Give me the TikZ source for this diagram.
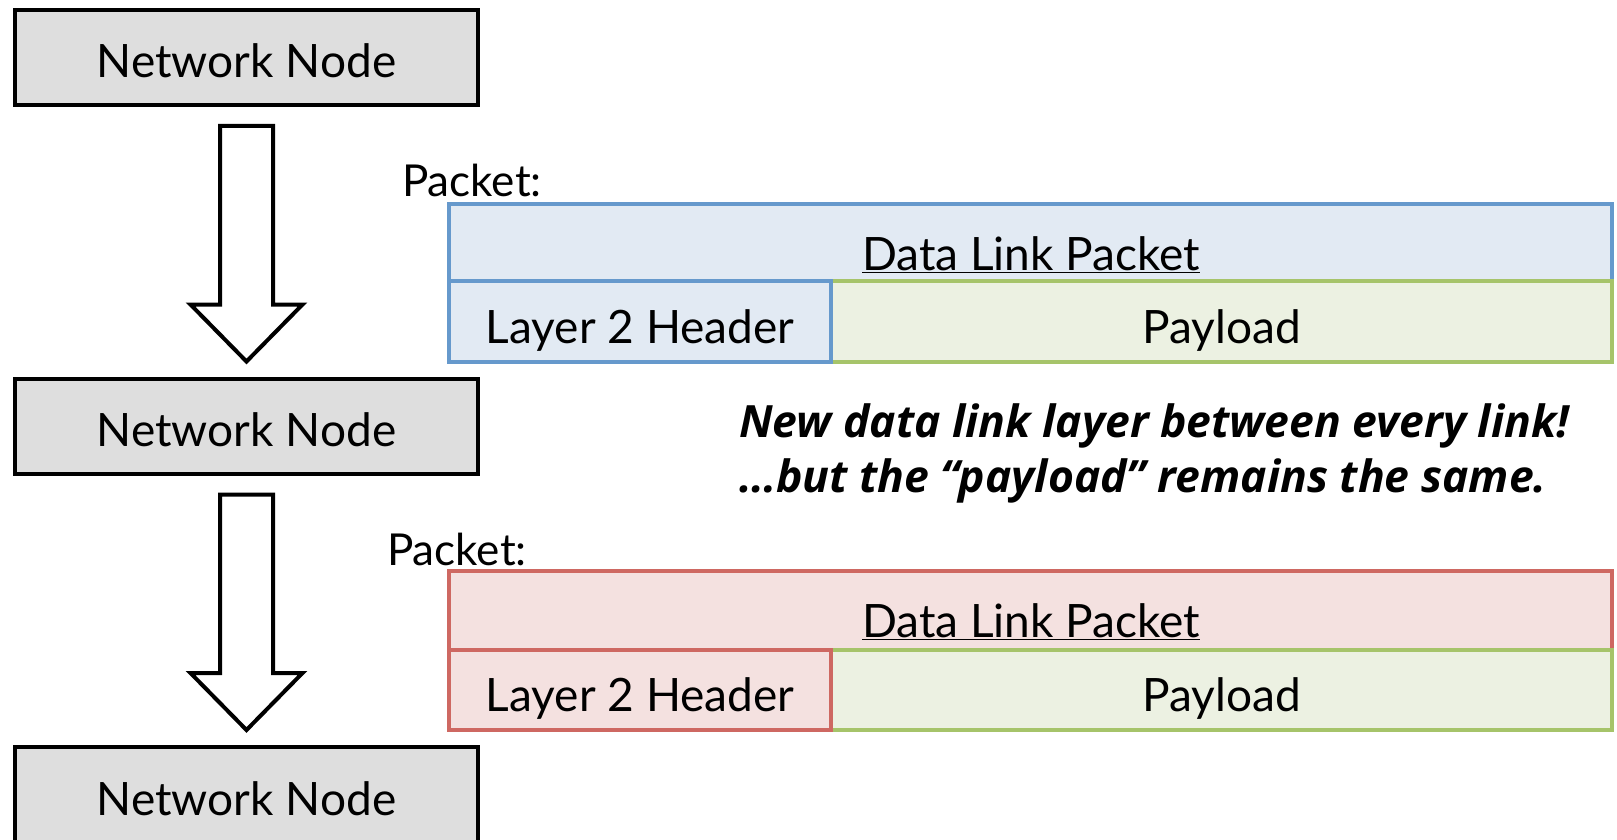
\documentclass[tikz,border=0pt]{standalone}
\usepackage{fontspec}
\setmainfont{Lato}
\newfontfamily\remarkfont{Open Sans}
\usetikzlibrary{calc}

\definecolor{nodegray}{RGB}{222,222,222}
\definecolor{linkblue}{RGB}{102,153,204}
\definecolor{linkbluefill}{RGB}{226,234,243}
\definecolor{linkred}{RGB}{206,104,98}
\definecolor{linkredfill}{RGB}{244,225,224}
\definecolor{loadgreen}{RGB}{166,196,106}
\definecolor{loadfill}{RGB}{236,241,226}

\tikzset{
  netnode/.style={draw=black, line width=4pt, fill=nodegray, inner sep=0pt,
    minimum width=463pt, minimum height=95pt, text height=41pt, text depth=0pt,
    font=\fontsize{46}{50}\selectfont},
  hollowarrow/.style={draw=black, line width=4pt, fill=white, line join=miter},
  pktbox/.style={line width=3.5pt, inner sep=0pt, text height=43pt, text depth=0pt,
    font=\fontsize{46}{50}\selectfont},
  pktlabel/.style={anchor=base west, inner sep=0pt, font=\fontsize{44}{48}\selectfont},
  notetext/.style={anchor=base west, inner sep=0pt,
    font=\fontsize{44.5}{48}\remarkfont\bfseries\itshape}
}

\begin{document}
\begin{tikzpicture}[x=1pt,y=-1pt]
    \useasboundingbox (0,0) rectangle (1617,840);
    \clip (0,0) rectangle (1617,840);

    % the three hops
    \node[netnode] (n1) at (246.5,57.5) {Network Node};
    \node[netnode] (n2) at (246.5,426) {Network Node};
    \node[netnode] (n3) at (246.5,794.5) {Network Node};

    % block arrows between hops
    \foreach \a/\b in {n1/n2, n2/n3} {
        \coordinate (s) at ($(\a.south)+(0,19)$);
        \coordinate (t) at ($(\b.north)+(0,-15)$);
        \draw[hollowarrow] ($(s)+(-26.5,0)$) -- ($(s)+(26.5,0)$)
            -- ($(t)+(26.5,-57)$) -- ($(t)+(56,-57)$) -- (t)
            -- ($(t)+(-56,-57)$) -- ($(t)+(-26.5,-57)$) -- cycle;
    }

    % first link
    \node[pktlabel] (p1) at (402,196) {Packet:};
    \node[pktbox, draw=linkblue, fill=linkbluefill, minimum width=1163pt, minimum height=158pt] (dl1) at (1030.5,283) {};
    \node[anchor=base, inner sep=0pt, font=\fontsize{46}{50}\selectfont] (dl1t) at (1031,270) {\underline{Data Link Packet}};
    \node[pktbox, draw=loadgreen, fill=loadfill, minimum width=781pt, minimum height=81pt] (pl1) at (1221.5,321.5) {Payload};
    \node[pktbox, draw=linkblue, fill=linkbluefill, minimum width=382pt, minimum height=81pt] (hd1) at (640,321.5) {Layer 2 Header};

    % second link
    \node[pktlabel] (p2) at (387,565) {Packet:};
    \node[pktbox, draw=linkred, fill=linkredfill, minimum width=1163pt, minimum height=159pt] (dl2) at (1030.5,650.5) {};
    \node[anchor=base, inner sep=0pt, font=\fontsize{46}{50}\selectfont] (dl2t) at (1031,637) {\underline{Data Link Packet}};
    \node[pktbox, draw=loadgreen, fill=loadfill, minimum width=781pt, minimum height=80pt] (pl2) at (1221.5,690) {Payload};
    \node[pktbox, draw=linkred, fill=linkredfill, minimum width=382pt, minimum height=80pt] (hd2) at (640,690) {Layer 2 Header};

    % remark
    \node[notetext] (note1) at (739,437) {New data link layer between every link!};
    \node[notetext] (note2) at ($(note1.base west)+(0,55)$) {…but the “payload” remains the same.};
\end{tikzpicture}
\end{document}
